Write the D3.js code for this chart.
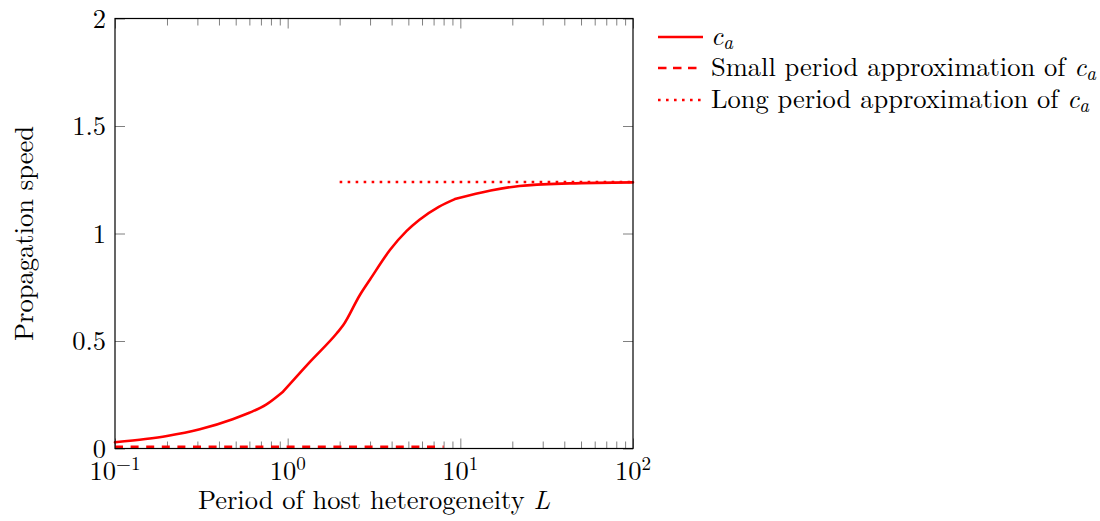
<!DOCTYPE html>
<html><head><meta charset="utf-8">
<script src="https://cdn.jsdelivr.net/npm/d3@7"></script>
<style>
body{margin:0;background:#fff;}
svg text{font-family:"Latin Modern Roman","CMU Serif","Liberation Serif",serif;fill:#000;}
</style></head><body>
<svg id="c" width="1100" height="521"></svg>
<script>
// ---- data ----  (a repeated point marks a kink in the computed curve)
const periodL = [0.1, 0.15, 0.2, 0.31, 0.48, 0.6, 0.75, 0.94, 0.94, 1.35, 1.92, 2.1, 2.62, 3.0, 3.91, 4.89, 5.8, 7.5, 9.3, 9.3, 15, 22, 43, 100];
const speedCa = [0.029, 0.044, 0.058, 0.089, 0.136, 0.166, 0.204, 0.264, 0.264, 0.404, 0.535, 0.574, 0.714, 0.786, 0.923, 1.012, 1.064, 1.124, 1.16, 1.16, 1.2, 1.221, 1.233, 1.238];
const smallL = [0.1, 8];
const smallApprox = [0.008, 0.008];
const longL = [2, 100];
const longApprox = [1.24, 1.24];
const xMajor = [0.1, 1, 10, 100];
const xMajorExp = ["\u22121", "0", "1", "2"];
const yTicks = [0, 0.5, 1, 1.5, 2];
const yTickLabels = ["0", "0.5", "1", "1.5", "2"];
const legendLabels = ["", "Small period approximation of ", "Long period approximation of "];

// ---- layout ----
const L = 115, R = 633, T = 18.5, B = 448.5;
const svg = d3.select("#c");
const x = d3.scaleLog().domain([0.1, 100]).range([L, R]);
const y = d3.scaleLinear().domain([0, 2]).range([B, T]);
const fs = 26.5;

// minor ticks
const minor = [];
[0.1, 1, 10].forEach(d => { for (let k = 2; k <= 9; k++) minor.push(d * k); });

const tickCol = "#808080";
function ax(gen, pos, vals, size) {
  const g = svg.append("g").attr("transform", pos).call(gen.tickValues(vals).tickSize(size).tickFormat(""));
  g.select(".domain").remove();
  g.selectAll("line").attr("stroke", tickCol).attr("stroke-width", 1);
}
ax(d3.axisBottom(x), `translate(0,${B})`, xMajor, -10);
ax(d3.axisBottom(x), `translate(0,${B})`, minor, -7);
ax(d3.axisTop(x), `translate(0,${T})`, xMajor, -10);
ax(d3.axisTop(x), `translate(0,${T})`, minor, -7);
ax(d3.axisLeft(y), `translate(${L},0)`, yTicks, -10);
ax(d3.axisRight(y), `translate(${R},0)`, yTicks, -10);

// x tick labels
xMajor.forEach((v, i) => {
  const t = svg.append("text").attr("x", x(v)).attr("y", 480).attr("text-anchor", "middle")
    .attr("font-size", fs);
  t.append("tspan").text("10");
  t.append("tspan").attr("dy", -10).attr("font-size", fs * 0.72).text(xMajorExp[i]);
});
// y tick labels
yTicks.forEach((v, i) => {
  svg.append("text").attr("x", 106).attr("y", y(v) + 9).attr("text-anchor", "end")
    .attr("font-size", fs).text(yTickLabels[i]);
});

// lines
const line = d3.line().x(d => x(d[0])).y(d => y(d[1]));
const smooth = d3.line().x(d => x(d[0])).y(d => y(d[1])).curve(d3.curveMonotoneX);
svg.append("path").datum(smallL.map((d, i) => [d, smallApprox[i]])).attr("d", line)
  .attr("fill", "none").attr("stroke", "#ff0000").attr("stroke-width", 2.5).attr("stroke-dasharray", "8 7.6");
svg.append("path").datum(longL.map((d, i) => [d, longApprox[i]])).attr("d", line)
  .attr("fill", "none").attr("stroke", "#ff0000").attr("stroke-width", 2.5).attr("stroke-dasharray", "2.6 5.4");
// main curve: smooth pieces, split where the data repeats a point (kinks)
const pts = periodL.map((d, i) => [d, speedCa[i]]);
const pieces = [[]];
pts.forEach((p, i) => {
  const prev = pts[i - 1];
  if (prev && prev[0] === p[0] && prev[1] === p[1]) { pieces.push([]); }
  pieces[pieces.length - 1].push(p);
});
svg.append("path").attr("d", pieces.map(p => smooth(p)).join(""))
  .attr("fill", "none").attr("stroke", "#ff0000").attr("stroke-width", 2.6)
  .attr("stroke-linejoin", "round").attr("stroke-linecap", "round");

// frame
svg.append("rect").attr("x", L).attr("y", T).attr("width", R - L).attr("height", B - T)
  .attr("fill", "none").attr("stroke", "#000").attr("stroke-width", 1.2);

// axis titles
const xt = svg.append("text").attr("x", (L + R) / 2).attr("y", 509).attr("text-anchor", "middle").attr("font-size", fs);
xt.append("tspan").text("Period of host heterogeneity ");
xt.append("tspan").attr("font-style", "italic").text("L");
svg.append("text").attr("transform", `translate(33,${(T + B) / 2}) rotate(-90)`)
  .attr("text-anchor", "middle").attr("font-size", fs).text("Propagation speed");

// legend
const dashes = [null, "8.5 6.5", "2.6 5.4"];
const rowY = [37, 68, 100];
legendLabels.forEach((lab, i) => {
  svg.append("line").attr("x1", 658).attr("x2", 703).attr("y1", rowY[i]).attr("y2", rowY[i])
    .attr("stroke", "#ff0000").attr("stroke-width", 2.5).attr("stroke-dasharray", dashes[i]);
  const t = svg.append("text").attr("x", 711).attr("y", rowY[i] + 8).attr("font-size", fs);
  if (lab) t.append("tspan").text(lab);
  t.append("tspan").attr("font-style", "italic").text("c");
  t.append("tspan").attr("font-style", "italic").attr("font-size", fs * 0.72).attr("dy", 4).text("a");
});
</script></body></html>
